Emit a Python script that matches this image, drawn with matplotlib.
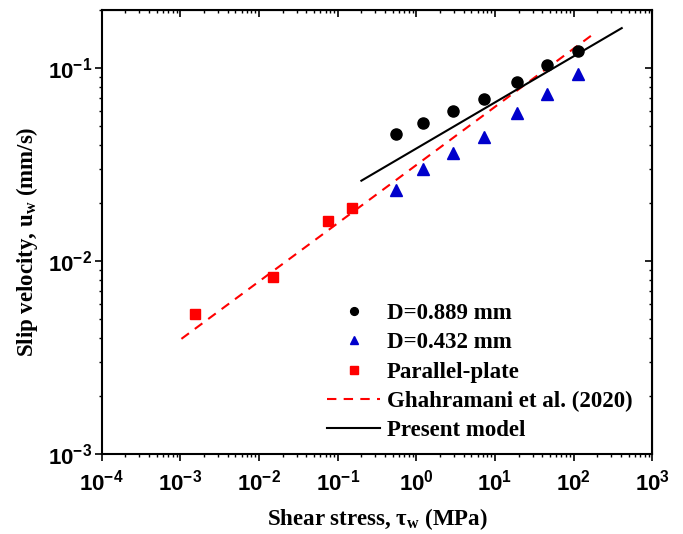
import numpy as np
import matplotlib
matplotlib.use("Agg")
import matplotlib.pyplot as plt
from matplotlib.ticker import LogLocator, NullFormatter, FuncFormatter

plt.rcParams['font.family'] = 'Liberation Serif'
plt.rcParams['font.weight'] = 'bold'
plt.rcParams['mathtext.fontset'] = 'custom'
plt.rcParams['mathtext.rm'] = 'Liberation Sans:bold'
plt.rcParams['mathtext.bf'] = 'Liberation Serif:bold'
plt.rcParams['mathtext.default'] = 'rm'
plt.rcParams['axes.unicode_minus'] = False

# data
tau_d889 = [0.55, 1.22, 2.95, 7.24, 18.9, 45.5, 113]
u_d889 = [0.0454, 0.0518, 0.060, 0.0696, 0.0848, 0.1037, 0.1225]

tau_d432 = [0.55, 1.22, 2.95, 7.24, 18.9, 45.5, 113]
u_d432 = [0.0233, 0.0299, 0.0365, 0.0440, 0.0583, 0.0736, 0.0935]

tau_pp = [0.00152, 0.0151, 0.0757, 0.150]
u_pp = [0.00533, 0.00824, 0.01607, 0.01884]

tau_ghah = [0.00103, 195]
u_ghah = [0.00395, 0.1545]

tau_model = [0.20, 409]
u_model = [0.0261, 0.1614]

def pow10(v, pos):
    return r'$10^{%d}$' % int(round(np.log10(v)))

fig = plt.figure(figsize=(6.83, 5.34), dpi=100)
ax = fig.add_axes([0.149, 0.150, 0.806, 0.831])

l_ghah, = ax.plot(tau_ghah, u_ghah, color='#ff0000', lw=1.5, dashes=(4.5, 3.5), zorder=2)
l_model, = ax.plot(tau_model, u_model, color='black', lw=1.5, zorder=2)
p1, = ax.plot(tau_d889, u_d889, 'o', color='black', ms=8, ls='none', zorder=3)
p2, = ax.plot(tau_d432, u_d432, '^', color='#0000cc', ms=8.5, ls='none', zorder=3)
p3, = ax.plot(tau_pp, u_pp, 's', color='#ff0000', ms=7.5, ls='none', zorder=3)

ax.set_xscale('log')
ax.set_yscale('log')
ax.set_xlim(1e-4, 1e3)
ax.set_ylim(1e-3, 0.2)

ax.xaxis.set_major_locator(LogLocator(base=10, numticks=20))
ax.xaxis.set_minor_locator(LogLocator(base=10, subs=np.arange(2, 10), numticks=20))
ax.yaxis.set_major_locator(LogLocator(base=10, numticks=20))
ax.yaxis.set_minor_locator(LogLocator(base=10, subs=np.arange(2, 10), numticks=20))
ax.xaxis.set_major_formatter(FuncFormatter(pow10))
ax.yaxis.set_major_formatter(FuncFormatter(pow10))
ax.xaxis.set_minor_formatter(NullFormatter())
ax.yaxis.set_minor_formatter(NullFormatter())

for s in ax.spines.values():
    s.set_linewidth(1.5)
ax.tick_params(which='major', direction='out', length=5, width=1.2, labelsize=16, pad=2)
ax.tick_params(which='minor', direction='out', length=2.5, width=1.0)
ax.tick_params(axis='x', which='major', pad=6)

# mirrored ticks on top and right, pointing in
top = ax.secondary_xaxis('top')
top.set_xscale('log')
top.xaxis.set_major_locator(LogLocator(base=10, numticks=20))
top.xaxis.set_minor_locator(LogLocator(base=10, subs=np.arange(2, 10), numticks=20))
top.tick_params(which='major', direction='in', length=5, width=1.2, labeltop=False)
top.tick_params(which='minor', direction='in', length=2.5, width=1.0)
right = ax.secondary_yaxis('right')
right.set_yscale('log')
right.yaxis.set_major_locator(LogLocator(base=10, numticks=20))
right.yaxis.set_minor_locator(LogLocator(base=10, subs=np.arange(2, 10), numticks=20))
right.tick_params(which='major', direction='in', length=5, width=1.2, labelright=False)
right.tick_params(which='minor', direction='in', length=2.5, width=1.0, labelright=False)

ax.set_xlabel(r'Shear stress, $\mathbf{\tau_w}$ (MPa)', fontsize=16.5, fontweight='bold', labelpad=8)
ax.set_ylabel(r'Slip velocity, $\mathbf{u_w}$ (mm/s)', fontsize=16.5, fontweight='bold')
ax.yaxis.set_label_coords(-0.113, 0.477)

ax.legend([p1, p2, p3, l_ghah, l_model],
          ['D=0.889 mm', 'D=0.432 mm', 'Parallel-plate', 'Ghahramani et al. (2020)', 'Present model'],
          loc='upper left', bbox_to_anchor=(0.41, 0.34), frameon=False,
          fontsize=16.5, markerscale=0.7, handlelength=2.3, handletextpad=0.3,
          labelspacing=0.36, borderpad=0, borderaxespad=0)

fig.savefig('out.png', dpi=100)
